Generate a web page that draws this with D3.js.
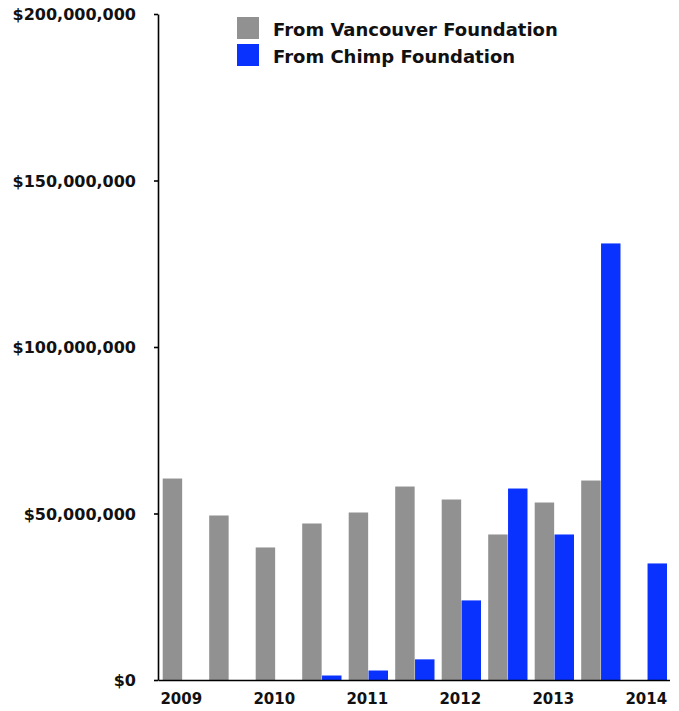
<!DOCTYPE html>
<html><head><meta charset="utf-8">
<script src="https://cdn.jsdelivr.net/npm/d3@7"></script>
<style>
body{margin:0;background:#fff;}
text{font-family:"DejaVu Sans",sans-serif;font-weight:bold;fill:#111;}
</style></head>
<body><svg id="c" width="679" height="711"></svg>
<script>
const periods = ["2009","2009b","2010","2010b","2011","2011b","2012","2012b","2013","2013b","2014"];
const xTickLabels = {"2009":"2009","2010":"2010","2011":"2011","2012":"2012","2013":"2013","2014":"2014"};
const seriesNames = ["From Vancouver Foundation","From Chimp Foundation"];
const vancouver = [60.5e6,49.4e6,39.8e6,47.0e6,50.3e6,58.1e6,54.2e6,43.7e6,53.3e6,59.9e6,0];
const chimp = [0,0,0,1.35e6,2.85e6,6.2e6,23.9e6,57.5e6,43.7e6,131.1e6,35.0e6];
const yTicks = [0,50e6,100e6,150e6,200e6];
const colors = ["#919191","#0a32ff"];

const svg = d3.select("#c");
const mLeft = 158, mRight = 669.5, mTop = 14, mBottom = 680;
const y = d3.scaleLinear().domain([0,200e6]).range([mBottom, mTop]);
const x = d3.scaleBand().domain(periods).range([mLeft, mRight]).padding(0);
const xs = d3.scaleBand().domain(seriesNames).range([4.7, 44]).paddingInner(0.02);

const data = [vancouver, chimp];
const g = svg.append("g");
periods.forEach((p,i)=>{
  seriesNames.forEach((s,j)=>{
    const v = data[j][i];
    if(v<=0) return;
    g.append("rect").attr("x", x(p)+xs(s)).attr("width", xs.bandwidth())
      .attr("y", y(v)).attr("height", y(0)-y(v)).attr("fill", colors[j]);
  });
});

// y axis
const fmt = d => "$" + d3.format(",")(d);
const ya = svg.append("g").attr("transform",`translate(${mLeft},0)`)
  .call(d3.axisLeft(y).tickValues(yTicks).tickFormat(fmt).tickSizeOuter(0).tickSizeInner(4).tickPadding(18));
ya.select(".domain").attr("stroke","#000").attr("stroke-width",1.6);
ya.selectAll(".tick line").attr("stroke","#000").attr("stroke-width",1.6);
ya.selectAll(".tick text").style("font-size","16px").attr("dy","0.35em").attr("fill","#111");

// x axis
const xa = svg.append("g").attr("transform",`translate(0,${mBottom})`)
  .call(d3.axisBottom(x).tickValues(Object.keys(xTickLabels)).tickFormat(d=>xTickLabels[d]).tickSize(0).tickPadding(13).tickSizeOuter(0));
xa.select(".domain").attr("stroke","#000").attr("stroke-width",1.6);
xa.selectAll(".tick text").style("font-size","15px").attr("fill","#111");

// legend
const lg = svg.append("g").attr("transform","translate(237,17)");
seriesNames.forEach((s,j)=>{
  lg.append("rect").attr("x",0).attr("y",j*27).attr("width",22).attr("height",22).attr("fill",colors[j]);
  lg.append("text").attr("x",36).attr("y",j*27+19).text(s).style("font-size","18px");
});
</script></body></html>
